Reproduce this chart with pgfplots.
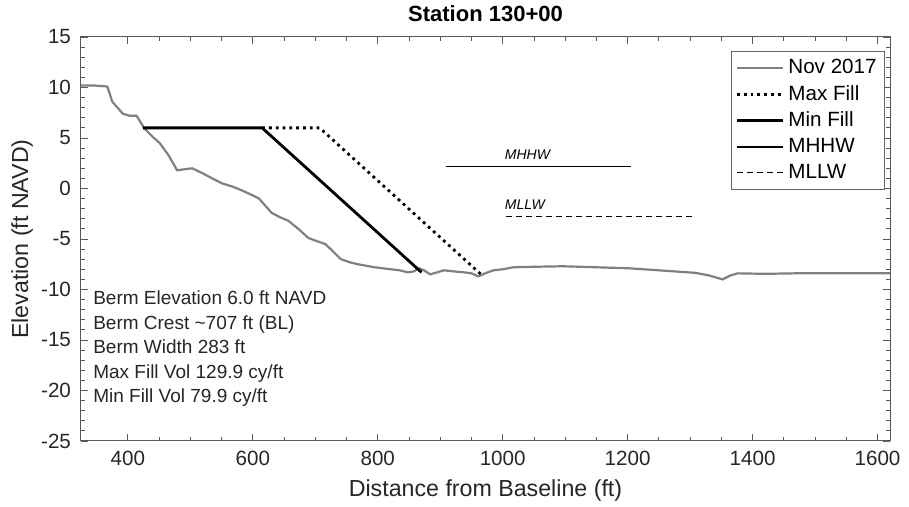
\documentclass[border=0pt]{standalone}
\usepackage{pgfplots}
\pgfplotsset{compat=1.18}
\usepackage{fontspec}
\setmainfont{Liberation Sans}
\begin{document}
\begin{tikzpicture}
\begin{axis}[
  name=ax,
  scale only axis,
  width=404.5pt, height=202pt,
  xmin=325, xmax=1620, ymin=-25, ymax=15,
  xtick={400,600,...,1600}, ytick={-25,-20,...,15},
  minor x tick num=3, minor y tick num=4,
  tick align=inside,
  major tick length=3.5pt, minor tick length=2pt,
  axis line style={black!65, line width=0.5pt},
  every tick/.style={black!65, line width=0.4pt},
  /pgf/number format/assume math mode=true,
  /pgf/number format/1000 sep={},
  tick label style={font=\fontsize{10.3}{12}\selectfont, text=black!85},
  yticklabel style={xshift=-1.5pt},
  xticklabel style={yshift=-1.5pt},
  xlabel={Distance from Baseline (ft)},
  ylabel={Elevation (ft NAVD)},
  every axis x label/.style={at={(rel axis cs:0.5,0)}, yshift=-24.5pt, anchor=center,
     font=\fontsize{11.6}{13}\selectfont, text=black!85},
  every axis y label/.style={at={(rel axis cs:0,0.5)}, xshift=-29.5pt, rotate=90, anchor=center,
     font=\fontsize{11.6}{13}\selectfont, text=black!85},
  title={\textbf{Station 130+00}},
  every axis title/.style={at={(rel axis cs:0.5,1)}, yshift=11.5pt, anchor=center,
     font=\fontsize{11}{13}\selectfont},
  legend style={at={(rel axis cs:1,1)}, xshift=-2.5pt, yshift=-7pt, anchor=north east,
    font=\fontsize{10.3}{12}\selectfont,
    draw=black!60, line width=0.4pt, row sep=0.3pt, inner sep=2pt,
    cells={anchor=west}},
  legend image code/.code={\draw[#1] (0cm,0cm) -- (23pt,0cm);},
  clip=true,
]
% Nov 2017 profile
\addplot[color=black!50, line width=1.1pt] coordinates {
(325,10.2) (345,10.2) (367,10.1) (372,9.2) (375,8.6) (385,7.9) (392,7.4) (403,7.2) (414,7.2)
(420,6.6) (427,5.9) (440,5.1) (451,4.5) (465,3.3) (479,1.8) (490,1.9) (503,2.0) (520,1.5)
(535,1.0) (551,0.5) (567,0.2) (583,-0.2) (597,-0.6) (610,-1.0) (620,-1.7) (630,-2.4) (642,-2.8)
(657,-3.2) (673,-4.0) (689,-4.9) (702,-5.2) (716,-5.5) (728,-6.2) (741,-7.0) (755,-7.3) (768,-7.5)
(795,-7.8) (821,-8.0) (835,-8.1) (848,-8.3) (858,-8.2) (866,-7.9) (874,-8.1) (884,-8.5) (895,-8.3)
(906,-8.1) (920,-8.2) (938,-8.3) (950,-8.4) (961,-8.7) (972,-8.4) (985,-8.1) (1000,-8.0) (1017,-7.8)
(1050,-7.75) (1097,-7.7) (1150,-7.8) (1202,-7.9) (1250,-8.1) (1308,-8.35) (1330,-8.6) (1352,-9.0)
(1365,-8.6) (1376,-8.4) (1420,-8.45) (1467,-8.4) (1540,-8.4) (1620,-8.4)
};
\addlegendentry{Nov 2017}
% Max fill
\addplot[black, line width=1.4pt, dotted] coordinates {(615,6.0) (707,6.0) (967,-8.6)};
\addlegendentry{Max Fill}
% Min fill
\addplot[black, line width=1.4pt] coordinates {(424,6.0) (615,6.0) (870,-8.3)};
\addlegendentry{Min Fill}
% MHHW
\addplot[black, line width=0.6pt] coordinates {(909,2.15) (1206,2.15)};
\addlegendentry{MHHW}
% MLLW
\addplot[black, line width=0.5pt, dash pattern=on 3pt off 2pt] coordinates {(1006,-2.8) (1308,-2.8)};
\addlegendentry{MLLW}
\node[anchor=base west, inner sep=0pt, font=\fontsize{7}{8}\selectfont\itshape] at (axis cs:1003,2.9) {MHHW};
\node[anchor=base west, inner sep=0pt, font=\fontsize{7}{8}\selectfont\itshape] at (axis cs:1003,-2.1) {MLLW};
\node[anchor=north west, align=left, inner sep=0pt, font=\fontsize{9.5}{12.25}\selectfont, text=black!85] at (axis cs:344,-10.1)
 {Berm Elevation 6.0 ft NAVD\\Berm Crest \textasciitilde707 ft (BL)\\Berm Width 283 ft\\Max Fill Vol 129.9 cy/ft\\Min Fill Vol 79.9 cy/ft};
\end{axis}
\pgfresetboundingbox
\path ([shift={(-40.5pt,-33pt)}]ax.south west) rectangle ([shift={(9.5pt,18.5pt)}]ax.north east);
\end{tikzpicture}
\end{document}
